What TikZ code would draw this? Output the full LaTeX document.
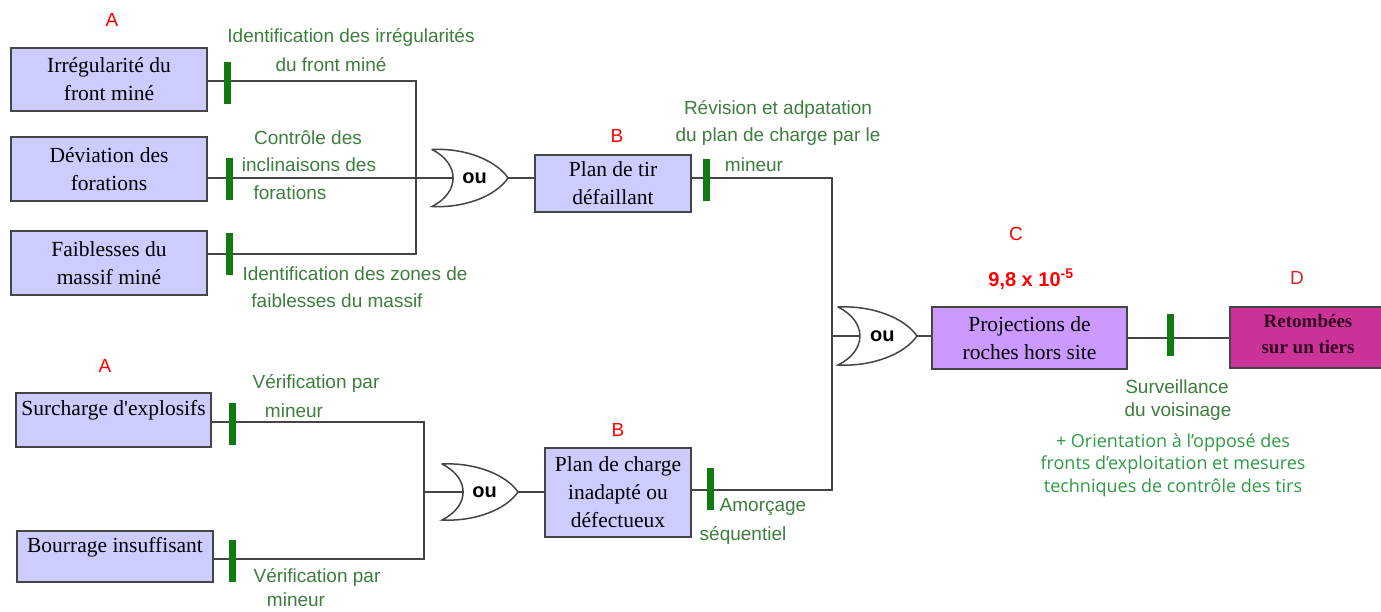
\documentclass[tikz,border=0pt]{standalone}
\usepackage{fontspec}
\setmainfont{Liberation Serif}
\newfontfamily\lsans{Liberation Sans}
\newfontfamily\osans{Open Sans}
\definecolor{boxA}{HTML}{CCCCFF}
\definecolor{boxC}{HTML}{CC99FF}
\definecolor{boxD}{HTML}{CC3399}
\definecolor{linec}{HTML}{454545}
\definecolor{barg}{HTML}{117A11}
\definecolor{labg}{HTML}{3E7D3E}
\definecolor{parg}{HTML}{2E9A44}
\definecolor{dtxt}{HTML}{330022}
\newcommand\straightquote{\XeTeXglyph\XeTeXcharglyph"27\relax}
\begin{document}
\begin{tikzpicture}[x=1pt,y=-1pt,
  box/.style={draw=linec, line width=1.6pt, fill=boxA, inner sep=0pt, align=center,
    font=\fontsize{21.5}{28}\selectfont},
  boxtext/.style={inner sep=0pt, font=\fontsize{21.5}{28}\selectfont},
  dtext/.style={inner sep=0pt, align=center, text=dtxt, font=\bfseries\fontsize{19}{26}\selectfont},
  bar/.style={fill=barg, inner sep=0pt, minimum width=7pt, minimum height=42pt},
  conn/.style={draw=linec, line width=1.5pt},
  lab/.style={text=labg, inner sep=0pt, font=\lsans\fontsize{19}{28}\selectfont},
  par/.style={text=parg, inner sep=0pt, align=center, font=\osans\fontsize{18}{22.5}\selectfont},
  letter/.style={text=red, inner sep=0pt, font=\lsans\fontsize{19}{22}\selectfont},
  outxt/.style={inner sep=0pt, font=\lsans\bfseries\fontsize{20}{22}\selectfont},
  orgate/.pic={
    \path[draw=linec, line width=1.5pt, fill=white]
      (0,-0.5) .. controls (0.45,-0.53) and (0.85,-0.3) .. (1,0)
      .. controls (0.85,0.3) and (0.45,0.53) .. (0,0.5)
      .. controls (0.37,0.25) and (0.37,-0.25) .. cycle;
    \coordinate (-in) at (0.28,0);
    \coordinate (-out) at (1,0);
    \node[outxt] (-ou) at (0.56,0) {ou};
  }]
\useasboundingbox (0,0) rectangle (1381,611);

% boxes
\node[box, minimum width=196pt, minimum height=63pt] (b1) at (109,79.5) {Irrégularité du\\front miné};
\node[box, minimum width=196pt, minimum height=64pt] (b2) at (109,169) {Déviation des\\forations};
\node[box, minimum width=196pt, minimum height=64pt] (b3) at (109,263) {Faiblesses du\\massif miné};
\node[box, minimum width=195pt, minimum height=54pt] (b4) at (113.5,420) {};
\node[boxtext] (b4t) at (113.5,410) {Surcharge d\straightquote explosifs};
\node[box, minimum width=196pt, minimum height=51pt] (b5) at (115,556.5) {};
\node[boxtext] (b5t) at (115,547) {Bourrage insuffisant};
\node[box, minimum width=156pt, minimum height=57pt] (p1) at (613,183.5) {Plan de tir\\défaillant};
\node[box, minimum width=146pt, minimum height=89pt] (p2) at (618,492.5) {Plan de charge\\inadapté ou\\défectueux};
\node[box, fill=boxC, minimum width=195pt, minimum height=62pt] (c) at (1029.5,338) {Projections de\\roches hors site};
\node[box, fill=boxD, minimum width=165pt, minimum height=61pt, anchor=west] (d) at (1229,337.5) {};
\node[dtext] (dt) at (1308,334) {Retombées\\sur un tiers};

% gates
\pic[xscale=76, yscale=57] (g1) at (432,178) {orgate};
\pic[xscale=76, yscale=56] (g2) at (442,492) {orgate};
\pic[xscale=79, yscale=58] (g3) at (838,336) {orgate};

% junction points
\coordinate (j1t) at (416,81);
\coordinate (j1b) at (416,254);
\coordinate (j2t) at (424,422);
\coordinate (j2b) at (424,559);
\coordinate (j3t) at (832,178);
\coordinate (j3b) at (832,490);

% connectors
\draw[conn] (b1.east |- j1t) -- (j1t) -- (j1b) -- (b3.east |- j1b);
\draw[conn] (b2.east |- g1-in) -- (g1-in);
\draw[conn] (g1-out) -- (p1.west |- g1-out);
\draw[conn] (b4.east |- j2t) -- (j2t) -- (j2b) -- (b5.east |- j2b);
\draw[conn] (j2t |- g2-in) -- (g2-in);
\draw[conn] (g2-out) -- (p2.west |- g2-out);
\draw[conn] (p1.east |- j3t) -- (j3t) -- (j3b) -- (p2.east |- j3b);
\draw[conn] (j3t |- g3-in) -- (g3-in);
\draw[conn] (g3-out) -- (c.west |- g3-out);
\draw[conn] (c.east) -- (c.east -| d.west);

% barriers
\node[bar] (t1) at (227,83) {};
\node[bar] (t2) at (229,178.5) {};
\node[bar] (t3) at (229,254) {};
\node[bar] (t4) at (232,423.5) {};
\node[bar] (t5) at (232,560.5) {};
\node[bar] (t6) at (706,180) {};
\node[bar] (t7) at (710,488.5) {};
\node[bar] (t8) at (1170,335) {};

% barrier labels
\node[lab] (l1a) at (351,37) {Identification des irrégularités};
\node[lab] (l1b) at (331,65) {du front miné};
\node[lab] (l2a) at (308,138) {Contrôle des};
\node[lab] (l2b) at (309,165) {inclinaisons des};
\node[lab] (l2c) at (290,193) {forations};
\node[lab] (l3a) at (355,274) {Identification des zones de};
\node[lab] (l3b) at (337,301) {faiblesses du massif};
\node[lab] (l4a) at (778,109) {Révision et adpatation};
\node[lab] (l4b) at (778,137) {du plan de charge par le};
\node[lab] (l4c) at (754,165) {mineur};
\node[lab] (l5a) at (316,383) {Vérification par};
\node[lab] (l5b) at (294,411) {mineur};
\node[lab] (l6a) at (317,577) {Vérification par};
\node[lab] (l6b) at (296,600) {mineur};
\node[lab] (l7a) at (763,507) {Amorçage};
\node[lab] (l7b) at (743,535) {séquentiel};
\node[lab] (l8a) at (1177,387) {Surveillance};
\node[lab] (l8b) at (1178,412) {du voisinage};
\node[par] (l9) at (1173,465) {+ Orientation à l’opposé des\\fronts d’exploitation et mesures\\techniques de contrôle des tirs};

% red letters
\node[letter] (ra1) at (112,20) {A};
\node[letter] (ra2) at (105,366) {A};
\node[letter] (rb1) at (617,136) {B};
\node[letter] (rb2) at (618,430) {B};
\node[letter] (rc) at (1016,234) {C};
\node[letter, font=\lsans\bfseries\fontsize{20}{22}\selectfont] (rp) at (1031,279) {9,8 x 10\textsuperscript{-5}};
\node[letter, text={rgb,255:red,205;green,40;blue,40}] (rd) at (1297,278) {D};
\end{tikzpicture}
\end{document}
